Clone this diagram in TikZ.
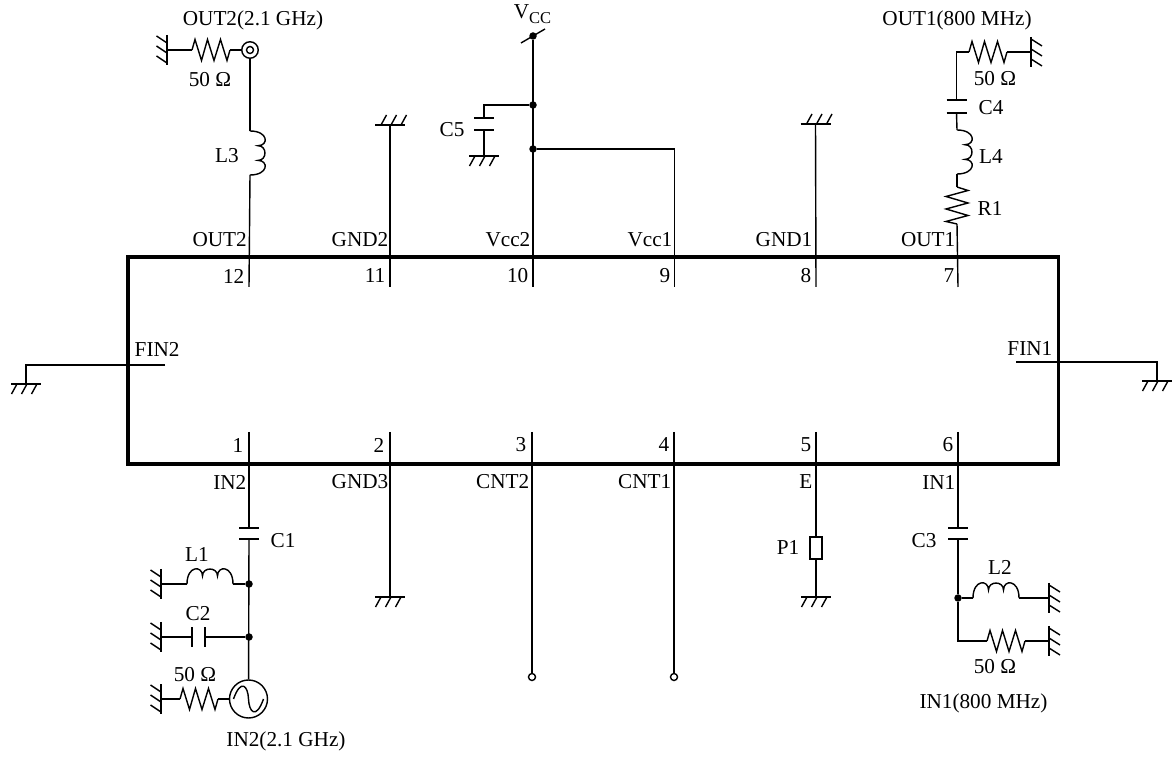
\documentclass[tikz,border=0pt]{standalone}
\usepackage{fontspec}
\setmainfont{Liberation Serif}
\usepackage{tikz}
\tikzset{
wire/.style={line width=.4pt},
plate/.style={line width=.72pt},
every node/.style={inner sep=0pt,font=\fontsize{6.04}{7}\selectfont},
dot/.style={circle,fill=black,minimum size=.075cm},
% grounds, named after the side the hatches point to
gnddown/.pic={
  \draw[plate] (-.15,0) -- (.15,0);
  \draw[wire] (-.09,0) -- (-.145,.1) (.01,0) -- (-.045,.1) (.11,0) -- (.055,.1);
},
gndup/.pic={
  \draw[plate] (-.15,0) -- (.15,0);
  \draw[wire] (-.09,0) -- (-.035,-.1) (.01,0) -- (.065,-.1) (.11,0) -- (.165,-.1);
},
gndleft/.pic={
  \draw[plate] (0,-.15) -- (0,.15);
  \draw[wire] (0,-.07) -- (-.105,-.14) (0,.03) -- (-.105,-.04) (0,.13) -- (-.105,.06);
},
gndright/.pic={
  \draw[plate] (0,-.15) -- (0,.15);
  \draw[wire] (0,-.13) -- (.11,-.06) (0,-.03) -- (.11,.04) (0,.07) -- (.11,.14);
},
% two terminal parts, drawn from the first end
resh/.pic={
  \draw[wire] (0,0) -- (.03,-.105) -- (.095,.105) -- (.155,-.105) -- (.22,.105)
    -- (.285,-.105) -- (.35,.105) -- (.38,0);
},
resv/.pic={
  \draw[wire] (0,0) -- (.11,.035) -- (-.11,.095) -- (.11,.16) -- (-.11,.22)
    -- (.11,.285) -- (-.11,.345) -- (0,.37);
},
indup/.pic={
  \draw[wire] (0,0) .. controls (0,-.187) and (.155,-.187) .. (.155,-.08)
    .. controls (.155,-.173) and (.305,-.173) .. (.305,-.08)
    .. controls (.305,-.187) and (.46,-.187) .. (.46,0);
},
indright/.pic={
  \draw[wire] (0,0) .. controls (.187,0) and (.187,.147) .. (.08,.147)
    .. controls (.173,.147) and (.173,.294) .. (.08,.294)
    .. controls (.187,.294) and (.187,.44) .. (0,.44);
},
}

\begin{document}
\begin{tikzpicture}[x=1cm,y=-1cm]
  \useasboundingbox (0,0) rectangle (11.72,7.57);
  \draw[line width=.92pt] (1.28,2.57) rectangle (10.585,4.64);

  \coordinate (p12) at (2.49,2.87);
  \coordinate (p11) at (3.9,2.87);
  \coordinate (p10) at (5.33,2.87);
  \coordinate (p9) at (6.745,2.87);
  \coordinate (p8) at (8.16,2.87);
  \coordinate (p7) at (9.58,2.87);
  \coordinate (p1) at (2.49,4.32);
  \coordinate (p2) at (3.9,4.32);
  \coordinate (p3) at (5.32,4.32);
  \coordinate (p4) at (6.74,4.32);
  \coordinate (p5) at (8.16,4.32);
  \coordinate (p6) at (9.58,4.32);

  \node[anchor=east] (n12) at (2.45,2.76) {12};
  \node[anchor=east] (n11) at (3.86,2.76) {11};
  \node[anchor=east] (n10) at (5.29,2.76) {10};
  \node[anchor=east] (n9) at (6.71,2.76) {9};
  \node[anchor=east] (n8) at (8.12,2.76) {8};
  \node[anchor=east] (n7) at (9.55,2.76) {7};
  \node[anchor=east] (n1) at (2.44,4.45) {1};
  \node[anchor=east] (n2) at (3.85,4.45) {2};
  \node[anchor=east] (n3) at (5.27,4.45) {3};
  \node[anchor=east] (n4) at (6.7,4.45) {4};
  \node[anchor=east] (n5) at (8.12,4.45) {5};
  \node[anchor=east] (n6) at (9.54,4.45) {6};
  \node[anchor=east] (lout2) at (2.475,2.4) {OUT2};
  \node[anchor=east] (lgnd2) at (3.89,2.4) {GND2};
  \node[anchor=east] (lvcc2) at (5.31,2.4) {Vcc2};
  \node[anchor=east] (lvcc1) at (6.73,2.4) {Vcc1};
  \node[anchor=east] (lgnd1) at (8.13,2.4) {GND1};
  \node[anchor=east] (lout1) at (9.56,2.4) {OUT1};
  \node[anchor=east] (lin2) at (2.47,4.82) {IN2};
  \node[anchor=east] (lgnd3) at (3.89,4.82) {GND3};
  \node[anchor=east] (lcnt2) at (5.3,4.82) {CNT2};
  \node[anchor=east] (lcnt1) at (6.72,4.82) {CNT1};
  \node[anchor=east] (le) at (8.13,4.82) {E};
  \node[anchor=east] (lin1) at (9.56,4.82) {IN1};
  \node[anchor=west] (lfin2) at (1.34,3.49) {FIN2};
  \node[anchor=east] (lfin1) at (10.53,3.48) {FIN1};

  % OUT2 side
  \node[draw,circle,wire,minimum size=.165cm] (coax) at (2.5,.5) {};
  \node[draw,circle,wire,minimum size=.07cm] (coaxin) at (2.5,.5) {};
  \node (tout2) at (2.53,.2) {OUT2(2.1 GHz)};
  \node (r2l) at (2.1,.8) {50 Ω};
  \node (tl3) at (2.27,1.56) {L3};
  \coordinate (g2) at (1.67,.5);
  \coordinate (r2a) at (1.92,.5);
  \coordinate (r2b) at (2.3,.5);
  \coordinate (l3a) at (2.5,1.31);
  \coordinate (l3b) at (2.5,1.75);
  \pic at (g2) {gndleft};
  \pic at (r2a) {resh};
  \pic at (l3a) {indright};
  \draw[wire] (g2) -- (r2a);
  \draw[wire] (r2b) -- (coax);
  \draw[wire] (coax) -- (l3a);
  \draw[wire] (l3b) -- (p12);

  % GND2
  \coordinate (g11) at (3.9,1.25);
  \pic at (g11) {gndup};
  \draw[wire] (g11) -- (p11);

  % Vcc
  \node[dot] (vcc) at (5.33,.36) {};
  \node (tvcc) at (5.325,.14) {V\raisebox{-.55ex}{\fontsize{4.7}{5}\selectfont CC}};
  \coordinate (slasha) at (5.21,.43);
  \coordinate (slashb) at (5.45,.29);
  \draw[wire] (slasha) -- (slashb);
  \node[dot] (j1) at (5.33,1.05) {};
  \node[dot] (j2) at (5.33,1.49) {};
  \coordinate (c5a) at (4.84,1.18);
  \coordinate (c5b) at (4.84,1.3);
  \coordinate (g10) at (4.84,1.56);
  \coordinate (k9) at (6.745,1.49);
  \node (tc5) at (4.52,1.3) {C5};
  \pic at (g10) {gnddown};
  \draw[wire] (vcc) -- (p10);
  \draw[wire] (j1) -| (c5a);
  \draw[wire] (c5b) -- (g10);
  \draw[plate] ([xshift=-.1cm]c5a) -- ([xshift=.1cm]c5a);
  \draw[plate] ([xshift=-.1cm]c5b) -- ([xshift=.1cm]c5b);
  \draw[wire] (j2) -- (k9) -- (p9);

  % GND1
  \coordinate (g8) at (8.155,1.24);
  \pic at (g8) {gndup};
  \draw[wire] (g8) -- (p8);

  % OUT1 side
  \node (tout1) at (9.57,.2) {OUT1(800 MHz)};
  \node (r3l) at (9.95,.79) {50 Ω};
  \node (tc4) at (9.91,1.08) {C4};
  \node (tl4) at (9.91,1.57) {L4};
  \node (tr1) at (9.9,2.08) {R1};
  \coordinate (g7) at (10.31,.52);
  \coordinate (r3a) at (9.69,.52);
  \coordinate (r3b) at (10.07,.52);
  \coordinate (c4a) at (9.565,1);
  \coordinate (c4b) at (9.565,1.13);
  \coordinate (l4a) at (9.57,1.3);
  \coordinate (l4b) at (9.57,1.74);
  \coordinate (r1a) at (9.57,1.87);
  \coordinate (r1b) at (9.57,2.24);
  \pic at (g7) {gndright};
  \pic at (r3a) {resh};
  \pic at (l4a) {indright};
  \pic at (r1a) {resv};
  \draw[wire] (c4a) |- (r3a);
  \draw[wire] (r3b) -- (g7);
  \draw[plate] ([xshift=-.1cm]c4a) -- ([xshift=.1cm]c4a);
  \draw[plate] ([xshift=-.1cm]c4b) -- ([xshift=.1cm]c4b);
  \draw[wire] (c4b) -- (l4a);
  \draw[wire] (l4b) -- (r1a);
  \draw[wire] (r1b) -- (p7);

  % FIN pins
  \coordinate (f2a) at (1.65,3.65);
  \coordinate (f2b) at (.26,3.65);
  \coordinate (f2g) at (.26,3.84);
  \coordinate (f1a) at (10.16,3.62);
  \coordinate (f1b) at (11.57,3.62);
  \coordinate (f1g) at (11.57,3.81);
  \pic at (f2g) {gnddown};
  \pic at (f1g) {gnddown};
  \draw[wire] (f2a) -- (f2b) -- (f2g);
  \draw[wire] (f1a) -- (f1b) -- (f1g);

  % IN2 side
  \node[draw,circle,wire,minimum size=.38cm] (osc) at (2.485,6.99) {};
  \node (tin2) at (2.86,7.41) {IN2(2.1 GHz)};
  \node (tc1) at (2.83,5.41) {C1};
  \node (tl1) at (1.97,5.54) {L1};
  \node (tc2) at (1.98,6.14) {C2};
  \node (r1l) at (1.95,6.75) {50 Ω};
  \node[dot] (j3) at (2.49,5.84) {};
  \node[dot] (j4) at (2.49,6.37) {};
  \coordinate (c1a) at (2.49,5.28);
  \coordinate (c1b) at (2.49,5.39);
  \coordinate (l1a) at (1.87,5.84);
  \coordinate (l1b) at (2.33,5.84);
  \coordinate (c2a) at (1.92,6.37);
  \coordinate (c2b) at (2.05,6.37);
  \coordinate (r1a2) at (1.8,6.99);
  \coordinate (r1b2) at (2.18,6.99);
  \coordinate (g1a) at (1.61,5.84);
  \coordinate (g1b) at (1.61,6.37);
  \coordinate (g1c) at (1.61,6.99);
  \pic at (g1a) {gndleft};
  \pic at (g1b) {gndleft};
  \pic at (g1c) {gndleft};
  \pic at (l1a) {indup};
  \pic at (r1a2) {resh};
  \draw[wire] (p1) -- (c1a);
  \draw[plate] ([xshift=-.1cm]c1a) -- ([xshift=.1cm]c1a);
  \draw[plate] ([xshift=-.1cm]c1b) -- ([xshift=.1cm]c1b);
  \draw[wire] (c1b) -- (osc);
  \draw[wire] (g1a) -- (l1a);
  \draw[wire] (l1b) -- (j3);
  \draw[wire] (g1b) -- (c2a);
  \draw[plate] ([yshift=-.1cm]c2a) -- ([yshift=.1cm]c2a);
  \draw[plate] ([yshift=-.1cm]c2b) -- ([yshift=.1cm]c2b);
  \draw[wire] (c2b) -- (j4);
  \draw[wire] (g1c) -- (r1a2);
  \draw[wire] (r1b2) -- (osc);
  \draw[wire] (2.335,6.99) .. controls (2.41,6.78) and (2.48,6.86) .. (2.485,6.99)
    .. controls (2.49,7.12) and (2.56,7.2) .. (2.635,6.99);

  % GND3, CNT pins
  \coordinate (g2b) at (3.9,5.97);
  \pic at (g2b) {gnddown};
  \draw[wire] (p2) -- (g2b);
  \node[draw,circle,wire,minimum size=.07cm] (cnt2) at (5.32,6.77) {};
  \node[draw,circle,wire,minimum size=.07cm] (cnt1) at (6.74,6.77) {};
  \draw[wire] (p3) -- (cnt2);
  \draw[wire] (p4) -- (cnt1);

  % E
  \node[draw,wire,minimum width=.12cm,minimum height=.22cm] (p1box) at (8.16,5.48) {};
  \node (tp1) at (7.88,5.47) {P1};
  \coordinate (g5) at (8.16,5.97);
  \pic at (g5) {gnddown};
  \draw[wire] (p5) -- (p1box);
  \draw[wire] (p1box) -- (g5);

  % IN1 side
  \node (tc3) at (9.24,5.41) {C3};
  \node (tl2) at (10,5.67) {L2};
  \node (r4l) at (9.95,6.67) {50 Ω};
  \node (tin1) at (9.835,7.03) {IN1(800 MHz)};
  \node[dot] (j5) at (9.58,5.98) {};
  \coordinate (c3a) at (9.58,5.28);
  \coordinate (c3b) at (9.58,5.39);
  \coordinate (l2a) at (9.73,5.98);
  \coordinate (l2b) at (10.19,5.98);
  \coordinate (k6) at (9.58,6.41);
  \coordinate (r4a) at (9.87,6.41);
  \coordinate (r4b) at (10.25,6.41);
  \coordinate (g6a) at (10.49,5.98);
  \coordinate (g6b) at (10.49,6.41);
  \pic at (g6a) {gndright};
  \pic at (g6b) {gndright};
  \pic at (l2a) {indup};
  \pic at (r4a) {resh};
  \draw[wire] (p6) -- (c3a);
  \draw[plate] ([xshift=-.1cm]c3a) -- ([xshift=.1cm]c3a);
  \draw[plate] ([xshift=-.1cm]c3b) -- ([xshift=.1cm]c3b);
  \draw[wire] (c3b) -- (j5);
  \draw[wire] (j5) -- (l2a);
  \draw[wire] (l2b) -- (g6a);
  \draw[wire] (j5) -- (k6) -- (r4a);
  \draw[wire] (r4b) -- (g6b);
\end{tikzpicture}
\end{document}
